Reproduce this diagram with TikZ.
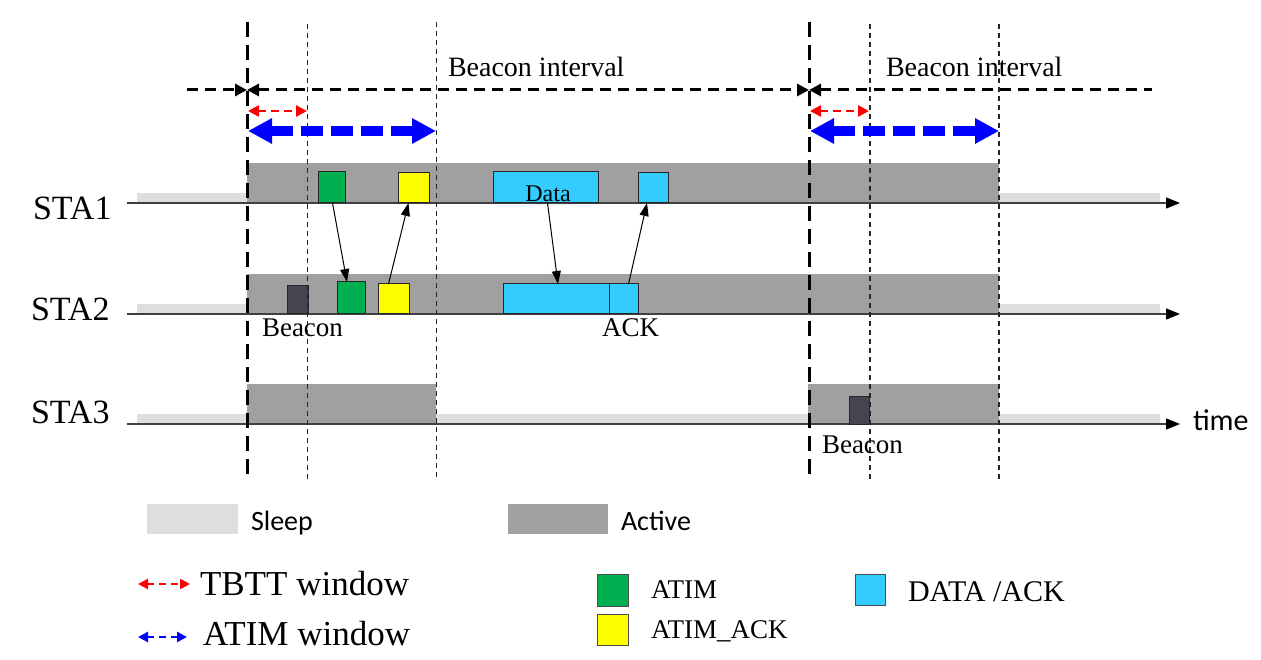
\documentclass[tikz,border=0pt]{standalone}
\usepackage{fontspec}
\setmainfont{Liberation Serif}
\newfontfamily\carfont{Carlito}
\usetikzlibrary{arrows.meta}
\definecolor{activegray}{HTML}{A0A0A0}
\definecolor{sleepgray}{HTML}{DEDEDE}
\definecolor{atimgreen}{HTML}{00B050}
\definecolor{ackyellow}{HTML}{FFFF00}
\definecolor{datacyan}{HTML}{33CCFF}
\definecolor{beacondark}{HTML}{45454F}
\definecolor{axisgray}{HTML}{404040}
\begin{document}
\begin{tikzpicture}[x=1pt,y=-1pt,
  pkt/.style={draw=black!85, line width=1pt, inner sep=0pt, outer sep=0pt, anchor=south west},
  legbox/.style={draw=black!70, line width=1pt, inner sep=0pt, outer sep=0pt, anchor=north west},
  msg/.style={line width=1pt, -{Triangle[length=13pt,width=9pt]}},
  axisline/.style={draw=axisgray, line width=1.3pt, -{Triangle[length=14pt,width=11pt,color=black]}},
  bigdash/.style={line width=3pt, dash pattern=on 15pt off 8pt},
  thindash/.style={line width=1.1pt, dash pattern=on 5pt off 4pt, draw=black!85},
  intdash/.style={line width=3pt, dash pattern=on 11pt off 7pt},
  tbtt/.style={draw=red, line width=2.5pt, dash pattern=on 8pt off 5pt, {Triangle[length=11pt,width=11pt]}-{Triangle[length=11pt,width=11pt]}},
  atimw/.style={draw=blue, line width=10pt, dash pattern=on 22pt off 8pt, {Triangle[length=24pt,width=24pt]}-{Triangle[length=24pt,width=24pt]}},
  legtbtt/.style={draw=red, line width=2.5pt, dash pattern=on 7pt off 5pt, {Triangle[length=10pt,width=10pt]}-{Triangle[length=10pt,width=10pt]}},
  legatim/.style={draw=blue, line width=2.5pt, dash pattern=on 7pt off 5pt, {Triangle[length=10pt,width=10pt]}-{Triangle[length=10pt,width=10pt]}},
  txt/.style={inner sep=0pt, outer sep=0pt, anchor=base west}
]
\useasboundingbox (0,0) rectangle (1261,660);

% sleep bars
\fill[sleepgray] (137,193) rectangle (247,203);
\fill[sleepgray] (999,193) rectangle (1160,203);
\fill[sleepgray] (137,304) rectangle (247,314);
\fill[sleepgray] (999,304) rectangle (1160,314);
\fill[sleepgray] (137,414) rectangle (247,424);
\fill[sleepgray] (436,414) rectangle (808,424);
\fill[sleepgray] (999,414) rectangle (1160,424);
% active bars
\fill[activegray] (247,163) rectangle (999,203);
\fill[activegray] (247,274) rectangle (999,314);
\fill[activegray] (247,384) rectangle (436,424);
\fill[activegray] (808,384) rectangle (999,424);

% axes
\coordinate (ax1s) at (127,203); \coordinate (ax1e) at (1180,203);
\coordinate (ax2s) at (127,314); \coordinate (ax2e) at (1180,314);
\coordinate (ax3s) at (127,424); \coordinate (ax3e) at (1180,424);
\draw[axisline] (ax1s) -- (ax1e);
\draw[axisline] (ax2s) -- (ax2e);
\draw[axisline] (ax3s) -- (ax3e);

% STA1 packets
\node[pkt, fill=atimgreen, minimum width=27pt, minimum height=31pt] (g1) at (318,203) {};
\node[pkt, fill=ackyellow, minimum width=31pt, minimum height=30pt] (y1) at (398,203) {};
\node[pkt, fill=datacyan, minimum width=105pt, minimum height=31pt] (d1) at (493,203) {};
\node[pkt, fill=datacyan, minimum width=30pt, minimum height=30pt] (k1) at (638,203) {};
\node[inner sep=0pt, anchor=base, font=\fontsize{24}{26}\selectfont] (datatxt) at (548,202) {Data};

% STA2 packets
\node[pkt, fill=beacondark, minimum width=21pt, minimum height=28pt] (b2) at (287,314) {};
\node[pkt, fill=atimgreen, minimum width=28pt, minimum height=32pt] (g2) at (337,314) {};
\node[pkt, fill=ackyellow, minimum width=31pt, minimum height=30pt] (y2) at (378,314) {};
\node[pkt, fill=datacyan, minimum width=106pt, minimum height=30pt] (d2) at (503,314) {};
\node[pkt, fill=datacyan, minimum width=29pt, minimum height=30pt] (k2) at (609,314) {};

% STA3 packet
\node[pkt, fill=beacondark, minimum width=20pt, minimum height=28pt] (b3) at (849,424) {};

% message arrows
\draw[msg] ([xshift=1pt]g1.south) -- ([xshift=-4pt]g2.north);
\draw[msg] ([xshift=-5pt]y2.north) -- ([xshift=-5pt]y1.south);
\draw[msg] ([xshift=2pt]d1.south) -- ([xshift=2pt]d2.north);
\draw[msg] ([xshift=5pt]k2.north) -- ([xshift=-6pt]k1.south);

% labels
\node[txt, font=\fontsize{34}{36}\selectfont] (sta1) at (33,220) {STA1};
\node[txt, font=\fontsize{34}{36}\selectfont] (sta2) at (31,320) {STA2};
\node[txt, font=\fontsize{34}{36}\selectfont] (sta3) at (31,423) {STA3};
\node[txt, font=\fontsize{27}{29}\selectfont] (bcn2) at (262,337) {Beacon};
\node[txt, font=\fontsize{27}{29}\selectfont] (ack2) at (602,337) {ACK};
\node[txt, font=\fontsize{27}{29}\selectfont] (bcn3) at (822,453) {Beacon};
\node[txt, font=\carfont\fontsize{30}{32}\selectfont] (time) at (1193,430) {time};
\node[txt, font=\fontsize{28}{30}\selectfont] (bi1) at (448,77) {Beacon interval};
\node[txt, font=\fontsize{28}{30}\selectfont] (bi2) at (886,77) {Beacon interval};

% vertical dashed lines
\draw[bigdash] (247,22) -- (247,480);
\draw[bigdash] (809,22) -- (809,480);
\draw[thindash] (307.5,24) -- (307.5,480);
\draw[thindash] (436.5,22) -- (436.5,480);
\draw[thindash] (870,24) -- (870,480);
\draw[thindash] (999,24) -- (999,480);

% beacon interval arrows
\coordinate (bil) at (187,90);
\coordinate (bi1p) at (247,90);
\coordinate (bi2p) at (809,90);
\coordinate (bir) at (1152,90);
\draw[intdash, -{Triangle[length=12pt,width=12pt]}] (bil) -- (bi1p);
\draw[intdash, {Triangle[length=12pt,width=12pt]}-{Triangle[length=12pt,width=12pt]}] (bi1p) -- (bi2p);
\draw[intdash, {Triangle[length=12pt,width=12pt]}-] (bi2p) -- (bir);

% TBTT and ATIM windows
\coordinate (t1a) at (248,111); \coordinate (t1b) at (307,111);
\coordinate (t2a) at (810,111); \coordinate (t2b) at (869,111);
\draw[tbtt] (t1a) -- (t1b);
\draw[tbtt] (t2a) -- (t2b);
\coordinate (w1a) at (248,131); \coordinate (w1b) at (436,131);
\coordinate (w2a) at (810,131); \coordinate (w2b) at (999,131);
\draw[atimw] (w1a) -- (w1b);
\draw[atimw] (w2a) -- (w2b);

% legend
\fill[sleepgray] (147,504) rectangle (238,534);
\node[txt, font=\carfont\fontsize{28}{30}\selectfont] (lsleep) at (251,530) {Sleep};
\fill[activegray] (508,504) rectangle (608,534);
\node[txt, font=\carfont\fontsize{28}{30}\selectfont] (lactive) at (621,530) {Active};

\coordinate (lt1) at (138,584); \coordinate (lt2) at (190,584);
\draw[legtbtt] (lt1) -- (lt2);
\node[txt, font=\fontsize{35}{37}\selectfont] (ltbtt) at (200,595) {TBTT window};
\coordinate (la1) at (138,637); \coordinate (la2) at (187,637);
\draw[legatim] (la1) -- (la2);
\node[txt, font=\fontsize{35}{37}\selectfont] (latim) at (203,645) {ATIM window};

\node[legbox, fill=atimgreen, minimum width=31pt, minimum height=32pt] (lg) at (597,574) {};
\node[txt, font=\fontsize{27}{29}\selectfont] (lgt) at (651,598) {ATIM};
\node[legbox, fill=ackyellow, minimum width=31pt, minimum height=31pt] (ly) at (597,614) {};
\node[txt, font=\fontsize{27}{29}\selectfont] (lyt) at (651,638) {ATIM\_ACK};
\node[legbox, fill=datacyan, minimum width=30pt, minimum height=31pt] (lc) at (855,574) {};
\node[txt, font=\fontsize{30}{32}\selectfont] (lct) at (908,601) {DATA /ACK};
\end{tikzpicture}
\end{document}
